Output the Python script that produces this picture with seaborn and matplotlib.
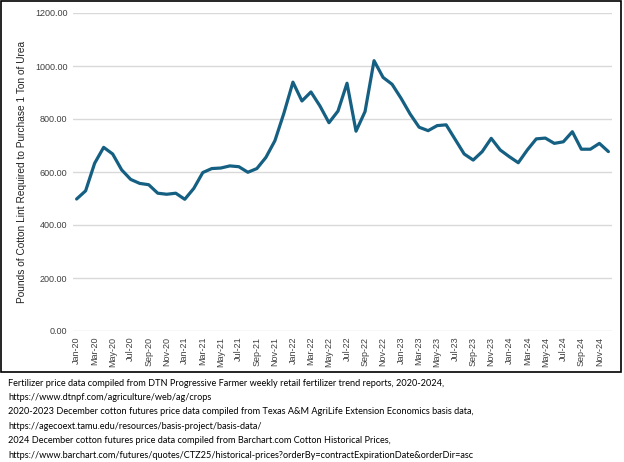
import pandas as pd
import matplotlib
matplotlib.use("Agg")
import matplotlib.pyplot as plt
import seaborn as sns
from matplotlib.patches import Rectangle

# Monthly values, Jan-2020 .. Dec-2024
months = pd.date_range("2020-01-01", "2024-12-01", freq="MS")
month_labels = [d.strftime("%b-%y") for d in months]
pounds_per_ton = [
    498, 529, 633, 693, 668, 608, 572, 557, 552, 520, 516, 520,   # 2020
    497, 538, 598, 613, 615, 623, 620, 599, 613, 655, 718, 822,   # 2021
    939, 868, 902, 849, 786, 830, 935, 754, 828, 1020, 957, 931,  # 2022
    878, 819, 769, 756, 775, 778, 723, 668, 645, 677, 727, 683,   # 2023
    658, 635, 683, 725, 728, 708, 714, 752, 686, 686, 708, 677,   # 2024
]
y_ticks = [0, 200, 400, 600, 800, 1000, 1200]

footnote_lines = [
    "Fertilizer price data compiled from DTN Progressive Farmer weekly retail fertilizer trend reports, 2020-2024,",
    "https://www.dtnpf.com/agriculture/web/ag/crops",
    "2020-2023 December cotton futures price data compiled from Texas A&M AgriLife Extension Economics basis data,",
    "https://agecoext.tamu.edu/resources/basis-project/basis-data/",
    "2024 December cotton futures price data compiled from Barchart.com Cotton Historical Prices,",
    "https://www.barchart.com/futures/quotes/CTZ25/historical-prices?orderBy=contractExpirationDate&orderDir=asc",
]

df = pd.DataFrame({"idx": range(len(months)), "label": month_labels, "value": pounds_per_ton})

sns.set_style("white")
plt.rcParams["font.family"] = ["Liberation Sans", "DejaVu Sans"]

W, H = 624, 462
fig = plt.figure(figsize=(W / 100, H / 100), dpi=100)
ax = fig.add_axes([73 / W, 1 - 331 / H, (612 - 73) / W, (331 - 13) / H])

sns.lineplot(data=df, x="idx", y="value", color="#156082", linewidth=2.3, ax=ax)

ax.set_ylim(0, 1200)
ax.set_xlim(-0.4, len(months) - 0.6)
ax.set_yticks(y_ticks)
ax.set_yticklabels([f"{v:.2f}" for v in y_ticks], fontsize=6.5, color="#404040")
ax.yaxis.grid(True, color="#d9d9d9", linewidth=1)
ax.xaxis.grid(False)
ax.set_axisbelow(True)

ax.set_xticks(df["idx"][::2])
ax.set_xticklabels(df["label"][::2], rotation=90, fontsize=6.5, color="#404040")
ax.tick_params(axis="both", length=0, pad=4)

for s in ["top", "right", "left", "bottom"]:
    ax.spines[s].set_visible(False)

ax.set_xlabel("")
ax.set_ylabel("Pounds of Cotton Lint Required to Purchase 1 Ton of Urea",
              fontsize=7.3, color="#222222", labelpad=6)

# chart border
fig.patches.append(Rectangle((1 / W, 1 - 372 / H), 620 / W, 371 / H,
                             transform=fig.transFigure, fill=False,
                             edgecolor="black", linewidth=1.2))

for i, line in enumerate(footnote_lines):
    fig.text(8 / W, 1 - (383 + i * 14.4) / H, line, fontsize=6.6,
             family=["Lato", "DejaVu Sans"], color="black", va="center")

fig.savefig("out.png", dpi=100)
